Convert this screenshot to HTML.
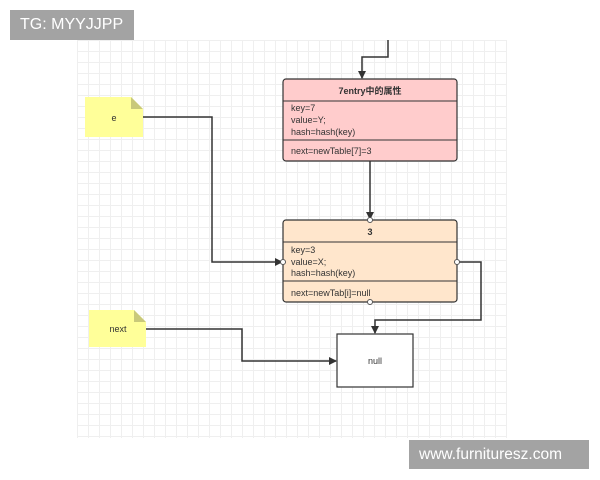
<!DOCTYPE html>
<html><head><meta charset="utf-8"><style>
body{margin:0;width:600px;height:480px;background:#fff;position:relative;overflow:hidden;font-family:"Liberation Sans","Noto Sans CJK SC",sans-serif}
.grid{position:absolute;left:77px;top:40px;width:430px;height:398px;
background-image:linear-gradient(#efefef 1px,transparent 1px),linear-gradient(90deg,#efefef 1px,transparent 1px);background-size:11px 11px}
.wm{position:absolute;background:#a3a3a3;color:#fff;font-size:16px;line-height:30px;padding:0 10px}
</style></head><body>
<div class="grid"></div>
<svg width="600" height="480" style="position:absolute;left:0;top:0" font-family="Liberation Sans, Noto Sans CJK SC, sans-serif">
<defs><marker id="a" markerWidth="8" markerHeight="8" refX="7" refY="4" orient="auto" markerUnits="userSpaceOnUse"><path d="M0,0 L8,4 L0,8 z" fill="#333"/></marker></defs>
<path d="M85,97 H131 L143,109 V137 H85 Z" fill="#ffff99"/>
<path d="M131,97 L143,109 H131 Z" fill="#c9c97a"/>
<text x="114" y="121" font-size="9" text-anchor="middle" fill="#333">e</text>
<path d="M89,310 H134 L146,322 V347 H89 Z" fill="#ffff99"/>
<path d="M134,310 L146,322 H134 Z" fill="#c9c97a"/>
<text x="118" y="332" font-size="9" text-anchor="middle" fill="#333">next</text>
<g fill="none" stroke="#333" stroke-width="1.5">
<path d="M388,40 V57 H362 V78" marker-end="url(#a)"/>
<path d="M370,161 V219" marker-end="url(#a)"/>
<path d="M143,117 H212 V262 H282" marker-end="url(#a)"/>
<path d="M457,262 H481 V320 H375 V333" marker-end="url(#a)"/>
<path d="M146,329 H242 V361 H336" marker-end="url(#a)"/>
</g>
<rect x="283" y="79" width="174" height="82" rx="3" fill="#ffcccc" stroke="#333" stroke-width="1.2"/>
<line x1="283" y1="101" x2="457" y2="101" stroke="#333"/>
<line x1="283" y1="140" x2="457" y2="140" stroke="#333"/>
<text x="370" y="94" font-size="9" font-weight="bold" text-anchor="middle" fill="#333">7entry中的属性</text>
<g font-size="9" fill="#333"><text x="291" y="111">key=7</text><text x="291" y="123">value=Y;</text><text x="291" y="135">hash=hash(key)</text><text x="291" y="154">next=newTable[7]=3</text></g>
<rect x="283" y="220" width="174" height="82" rx="3" fill="#ffe6cc" stroke="#333" stroke-width="1.2"/>
<line x1="283" y1="242" x2="457" y2="242" stroke="#333"/>
<line x1="283" y1="281" x2="457" y2="281" stroke="#333"/>
<text x="370" y="235" font-size="9" font-weight="bold" text-anchor="middle" fill="#333">3</text>
<g font-size="9" fill="#333"><text x="291" y="253">key=3</text><text x="291" y="265">value=X;</text><text x="291" y="276">hash=hash(key)</text><text x="291" y="296">next=newTab[i]=null</text></g>
<g fill="#fff" stroke="#555"><circle cx="370" cy="220" r="2.5"/><circle cx="370" cy="302" r="2.5"/><circle cx="283" cy="262" r="2.5"/><circle cx="457" cy="262" r="2.5"/></g>
<rect x="337" y="334" width="76" height="53" fill="#fff" stroke="#333" stroke-width="1.2"/>
<text x="375" y="364" font-size="9" text-anchor="middle" fill="#333">null</text>
</svg>
<div class="wm" style="left:10px;top:10px;width:104px">TG: MYYJJPP</div>
<div class="wm" style="left:409px;top:440px;width:160px;line-height:29px;font-size:15.5px">www.furnituresz.com</div>
</body></html>
